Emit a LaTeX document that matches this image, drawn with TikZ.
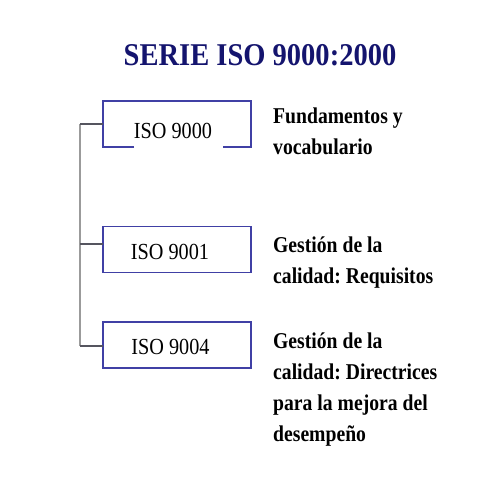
\documentclass[tikz,border=0pt]{standalone}
\usepackage{fontspec}
\setmainfont{Liberation Serif}
\frenchspacing
\definecolor{titleblue}{RGB}{20,20,110}
\definecolor{boxblue}{RGB}{64,64,165}
\definecolor{vgray}{RGB}{155,155,155}
\definecolor{hgray}{RGB}{85,85,95}
\begin{document}
\begin{tikzpicture}[x=1pt,y=-1pt,
  boxsty/.style={draw=boxblue,line width=1.3pt,minimum width=148pt,minimum height=46pt,inner sep=0pt,outer sep=0pt},
  isolabel/.style={anchor=base,inner sep=0pt,font=\fontsize{23}{27}\selectfont},
  desc/.style={anchor=base west,inner sep=0pt,font=\fontsize{22.6}{31.3}\selectfont\bfseries},
  vline/.style={draw=vgray,line width=1.3pt},
  hline/.style={draw=hgray,line width=1.3pt}]
\useasboundingbox (0,0) rectangle (480,480);
\fill[white] (0,0) rectangle (480,480);
% title
\node[anchor=base,inner sep=0pt,text=titleblue,font=\fontsize{31.7}{36}\selectfont\bfseries] (title) at (260,65) {\scalebox{0.9}[1]{SERIE ISO 9000:2000}};
% boxes
\node[boxsty,draw=none] (b1) at (177,124) {};
\node[boxsty] (b2) at (177,249.5) {};
\node[boxsty] (b3) at (177,345) {};
\draw[draw=boxblue,line width=1.3pt,line join=miter] ([xshift=31pt]b1.south west) -- (b1.south west) -- (b1.north west) -- (b1.north east) -- (b1.south east) -- ([xshift=-28pt]b1.south east);
% box labels
\node[isolabel] (l1) at (173,138) {\scalebox{0.88}[1]{ISO 9000}};
\node[isolabel] (l2) at (170,259) {\scalebox{0.88}[1]{ISO 9001}};
\node[isolabel] (l3) at (170.5,354) {\scalebox{0.88}[1]{ISO 9004}};
% connectors
\coordinate (j1) at (80,124);
\coordinate (j2) at (80,244);
\coordinate (j3) at (80,346);
\draw[vline] (j1) -- (j3);
\draw[hline] (j1) -- (b1.west);
\draw[hline] (j2) -- (j2 -| b2.west);
\draw[hline] (j3) -- (j3 -| b3.west);
% descriptions
\node[desc] (d1) at (273,123) {\scalebox{0.87}[1]{\begin{tabular}[t]{@{}l@{}}Fundamentos y\\vocabulario\end{tabular}}};
\node[desc] (d2) at (273,252) {\scalebox{0.87}[1]{\begin{tabular}[t]{@{}l@{}}Gestión de la\\calidad: Requisitos\end{tabular}}};
\node[desc] (d3) at (273,348) {\scalebox{0.87}[1]{\begin{tabular}[t]{@{}l@{}}Gestión de la\\calidad: Directrices\\para la mejora del\\desempeño\end{tabular}}};
\end{tikzpicture}
\end{document}
